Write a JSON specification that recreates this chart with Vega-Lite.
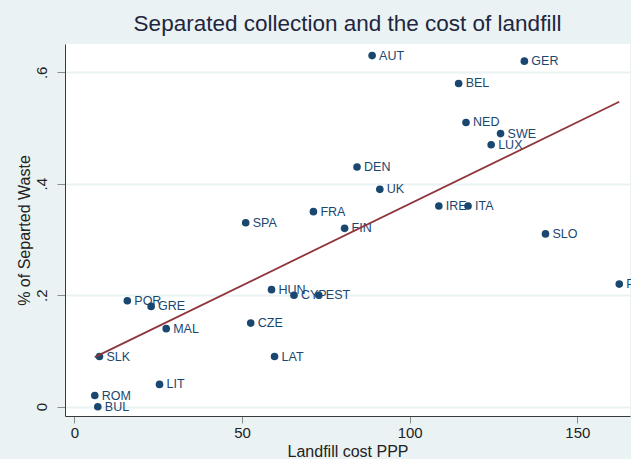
{
  "$schema": "https://vega.github.io/schema/vega-lite/v6.json",
  "width": 565,
  "height": 372,
  "autosize": "none",
  "padding": {"left": 65, "top": 44, "right": 1, "bottom": 43},
  "background": "#EAF2F3",
  "title": {
    "text": "Separated collection and the cost of landfill",
    "font": "Liberation Sans",
    "fontSize": 22.5,
    "fontWeight": "normal",
    "color": "#1E2640",
    "anchor": "middle",
    "offset": 9
  },
  "config": {
    "view": {"stroke": null, "fill": "white"},
    "axis": {
      "labelFont": "Liberation Sans",
      "titleFont": "Liberation Sans",
      "labelFontSize": 15,
      "titleFontSize": 16,
      "titleFontWeight": "normal",
      "labelColor": "#222222",
      "titleColor": "#222222",
      "domainColor": "#3a3a3a",
      "tickColor": "#8a8a8a",
      "domainWidth": 1,
      "tickWidth": 1
    }
  },
  "data": {
    "values": [
      {"country": "AUT", "cost": 88.8, "share": 0.63},
      {"country": "GER", "cost": 134.2, "share": 0.62},
      {"country": "BEL", "cost": 114.6, "share": 0.58},
      {"country": "NED", "cost": 116.8, "share": 0.51},
      {"country": "SWE", "cost": 127.1, "share": 0.49},
      {"country": "LUX", "cost": 124.3, "share": 0.47},
      {"country": "DEN", "cost": 84.3, "share": 0.43},
      {"country": "UK", "cost": 91.1, "share": 0.39},
      {"country": "IRE", "cost": 108.7, "share": 0.36},
      {"country": "ITA", "cost": 117.4, "share": 0.36},
      {"country": "SLO", "cost": 140.5, "share": 0.31},
      {"country": "SPA", "cost": 51.1, "share": 0.33},
      {"country": "FRA", "cost": 71.3, "share": 0.35},
      {"country": "FIN", "cost": 80.6, "share": 0.32},
      {"country": "POL", "cost": 162.5, "share": 0.22},
      {"country": "HUN", "cost": 58.8, "share": 0.21},
      {"country": "CYP", "cost": 65.5, "share": 0.20},
      {"country": "EST", "cost": 72.9, "share": 0.20},
      {"country": "POR", "cost": 15.8, "share": 0.19},
      {"country": "GRE", "cost": 22.9, "share": 0.18},
      {"country": "MAL", "cost": 27.4, "share": 0.14},
      {"country": "CZE", "cost": 52.6, "share": 0.15},
      {"country": "SLK", "cost": 7.5, "share": 0.09},
      {"country": "LAT", "cost": 59.7, "share": 0.09},
      {"country": "LIT", "cost": 25.4, "share": 0.04},
      {"country": "ROM", "cost": 6.1, "share": 0.02},
      {"country": "BUL", "cost": 7.0, "share": 0.0}
    ]
  },
  "encoding": {
    "x": {
      "field": "cost",
      "type": "quantitative",
      "scale": {"domain": [-2.78, 165.7], "nice": false, "zero": false},
      "axis": {
        "title": "Landfill cost PPP",
        "values": [0, 50, 100, 150],
        "grid": false,
        "tickSize": 7,
        "labelPadding": 2,
        "titlePadding": 3
      }
    },
    "y": {
      "field": "share",
      "type": "quantitative",
      "scale": {"domain": [-0.0167, 0.6508], "nice": false, "zero": false},
      "axis": {
        "title": "% of Separted Waste",
        "values": [0, 0.2, 0.4, 0.6],
        "labelExpr": "datum.value == 0 ? '0' : '.' + format(datum.value * 10, '.0f')",
        "labelAngle": 270,
        "labelAlign": "center",
        "labelBaseline": "bottom",
        "grid": true,
        "gridColor": "#EAF2F3",
        "gridWidth": 2,
        "tickSize": 8,
        "labelPadding": 8,
        "titlePadding": 2
      }
    }
  },
  "layer": [
    {
      "mark": {"type": "circle", "size": 58, "opacity": 1, "color": "#1A476F"}
    },
    {
      "mark": {
        "type": "text",
        "align": "left",
        "baseline": "middle",
        "dx": 7,
        "font": "Liberation Sans",
        "fontSize": 12.5,
        "color": "#1A476F"
      },
      "encoding": {"text": {"field": "country", "type": "nominal"}}
    },
    {
      "transform": [{"regression": "share", "on": "cost"}],
      "mark": {"type": "line", "color": "#90353B", "strokeWidth": 1.8},
      "encoding": {}
    }
  ]
}
